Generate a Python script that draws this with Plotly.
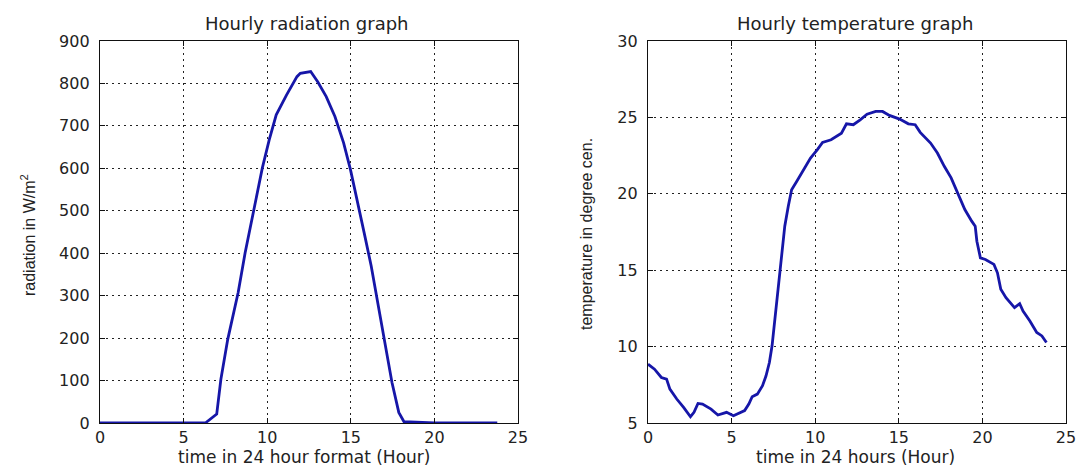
import plotly.graph_objects as go

# Radiation (W/m^2) vs hour
rad_hour = [0, 2, 4, 6.3, 6.98, 7.23, 7.64, 8.26, 8.68, 9.19, 9.71, 10.12, 10.54, 11.16,
            11.78, 11.98, 12.3, 12.6, 13.02, 13.53, 14.05, 14.57, 14.98, 15.39, 15.8,
            16.22, 16.63, 17.05, 17.46, 17.87, 18.18, 20, 22, 23.76]
rad_val = [0, 0, 0, 0, 21, 103, 197, 307, 401, 503, 601, 667, 726, 773,
           816, 824, 826, 828, 804, 769, 722, 660, 597, 526, 448,
           370, 276, 182, 96, 25, 3, 0, 0, 0]

# Temperature (deg C) vs hour
temp_hour = [0, 0.39, 0.8, 1.11, 1.31, 1.72, 2.13, 2.54, 2.75, 2.99, 3.26, 3.77, 4.18, 4.70,
             5.11, 5.41, 5.78, 6.03, 6.23, 6.54, 6.85, 7.06, 7.26, 7.42, 7.57, 7.77, 7.98,
             8.18, 8.39, 8.59, 8.9, 9.31, 9.72, 10.13, 10.44, 10.95, 11.36, 11.57, 11.87,
             12.28, 12.69, 13.1, 13.62, 14.03, 14.44, 15.05, 15.57, 15.98, 16.28, 16.9,
             17.31, 17.72, 18.13, 18.54, 18.95, 19.36, 19.57, 19.67, 19.88, 20.18, 20.69,
             20.9, 21.1, 21.41, 21.92, 22.23, 22.43, 22.84, 23.25, 23.56, 23.83]
temp_val = [8.85, 8.52, 7.98, 7.87, 7.22, 6.57, 6.02, 5.41, 5.70, 6.28, 6.24, 5.91, 5.52, 5.70,
            5.48, 5.63, 5.81, 6.24, 6.72, 6.89, 7.44, 8.09, 8.96, 10.05, 11.57, 13.53, 15.7,
            17.88, 19.19, 20.27, 20.82, 21.58, 22.34, 22.89, 23.36, 23.54, 23.86, 23.97, 24.58,
            24.52, 24.84, 25.21, 25.39, 25.39, 25.13, 24.89, 24.58, 24.52, 24.02, 23.32,
            22.67, 21.8, 21.04, 20.06, 18.97, 18.21, 17.88, 16.9, 15.81, 15.7, 15.38,
            14.83, 13.75, 13.2, 12.55, 12.81, 12.33, 11.68, 10.92, 10.7, 10.27]

x_ticks = [0, 5, 10, 15, 20, 25]
rad_ticks = [0, 100, 200, 300, 400, 500, 600, 700, 800, 900]
temp_ticks = [5, 10, 15, 20, 25, 30]

W, H = 1078, 466
line_color = "#1616a8"
tick_font = dict(family="DejaVu Sans", size=16, color="#222")

fig = go.Figure()
fig.add_trace(go.Scatter(x=rad_hour, y=rad_val, mode="lines",
                         line=dict(color=line_color, width=2.8), xaxis="x", yaxis="y",
                         showlegend=False))
fig.add_trace(go.Scatter(x=temp_hour, y=temp_val, mode="lines",
                         line=dict(color=line_color, width=2.8), xaxis="x2", yaxis="y2",
                         showlegend=False))

ax_common = dict(showline=True, linecolor="#111", linewidth=1.3, mirror="ticks",
                 ticks="inside", ticklen=5, tickcolor="#111", showgrid=True,
                 gridcolor="#222", griddash="2px,4px", gridwidth=1, zeroline=False,
                 tickfont=tick_font, automargin=False)

ydom = [1 - 423 / H, 1 - 41 / H]
fig.update_layout(
    width=W, height=H, margin=dict(l=0, r=0, t=0, b=0),
    paper_bgcolor="white", plot_bgcolor="white",
    xaxis=dict(domain=[100 / W, 518 / W], range=[0, 25], tickvals=x_ticks, anchor="y",
               ticklabelstandoff=0, **ax_common),
    yaxis=dict(domain=ydom, range=[0, 900], tickvals=rad_ticks, anchor="x",
               ticklabelstandoff=6, **ax_common),
    xaxis2=dict(domain=[648 / W, 1066 / W], range=[0, 25], tickvals=x_ticks, anchor="y2",
                ticklabelstandoff=0, **ax_common),
    yaxis2=dict(domain=ydom, range=[5, 30], tickvals=temp_ticks, anchor="x2",
                ticklabelstandoff=6, **ax_common),
)

title_font = dict(family="DejaVu Sans", size=18, color="#222")
xlab_font = dict(family="DejaVu Sans", size=17, color="#222")
label_font = dict(family="Liberation Sans Narrow, Liberation Sans", size=16, color="#222")
annos = [
    dict(text="Hourly radiation graph", x=307 / W, y=1 - 23 / H, font=title_font),
    dict(text="Hourly temperature graph", x=855 / W, y=1 - 23 / H, font=title_font),
    dict(text="time in 24 hour format (Hour)", x=304 / W, y=1 - 457 / H, font=xlab_font),
    dict(text="time in 24 hours (Hour)", x=855 / W, y=1 - 457 / H, font=xlab_font),
    dict(text="radiation in W/m<sup>2</sup>", x=28 / W, y=1 - 235 / H, font=label_font, textangle=-90),
    dict(text="temperature in degree cen.", x=586 / W, y=1 - 234 / H, font=label_font, textangle=-90),
]
for a in annos:
    fig.add_annotation(xref="paper", yref="paper", showarrow=False,
                       xanchor="center", yanchor="middle", **a)

fig.write_html("out.html")
